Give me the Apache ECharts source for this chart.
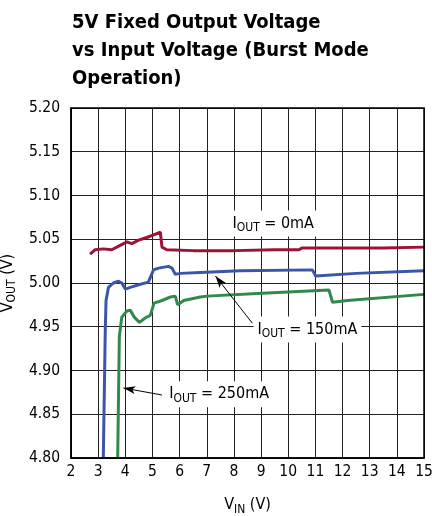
<!DOCTYPE html>
<html><head><meta charset="utf-8">
<script src="https://cdn.jsdelivr.net/npm/echarts@6/dist/echarts.min.js"></script>
<style>html,body{margin:0;padding:0;background:#fff}#c{width:432px;height:516px}</style>
</head><body><div id="c"></div>
<script>
const FONT = "'DejaVu Sans Condensed', 'Liberation Sans Narrow', Arial, sans-serif";
const TFONT = "'DejaVu Sans Condensed', Arial, sans-serif";
const xTicks = [2,3,4,5,6,7,8,9,10,11,12,13,14,15];
const yTicks = [4.80,4.85,4.90,4.95,5.00,5.05,5.10,5.15,5.20];

const vin0 = [2.70,2.89,3.19,3.50,3.81,4.06,4.24,4.49,4.79,5.04,5.29,5.32,5.35,5.53,6.5,8.0,9.5,10.4,10.5,12.0,13.5,15.0];
const vout0 = [5.033,5.038,5.039,5.038,5.043,5.047,5.045,5.049,5.052,5.055,5.058,5.058,5.041,5.038,5.037,5.037,5.038,5.038,5.040,5.040,5.040,5.041];

const vin150 = [3.19,3.26,3.29,3.38,3.56,3.75,3.87,4.00,4.18,4.49,4.85,5.04,5.22,5.59,5.72,5.84,6.03,6.76,8.24,10.89,11.01,12.5,15.0];
const vout150 = [4.80,4.942,4.980,4.995,5.000,5.002,5.000,4.993,4.995,4.998,5.001,5.015,5.017,5.019,5.017,5.010,5.011,5.012,5.014,5.015,5.008,5.011,5.014];

const vin250 = [3.72,3.78,3.87,4.06,4.18,4.33,4.52,4.73,4.92,5.06,5.35,5.66,5.84,5.93,6.15,6.76,7.01,8.86,11.50,11.63,12.18,15.0];
const vout250 = [4.80,4.939,4.961,4.968,4.969,4.961,4.955,4.960,4.963,4.977,4.980,4.984,4.985,4.975,4.980,4.984,4.985,4.988,4.992,4.978,4.980,4.987];

const seriesNames = ['0mA','150mA','250mA'];
const seriesColors = ['#9c1334','#3b56a9','#2f8a4c'];

const labels = [
  {t:'0mA', x:7.80, y:5.068},
  {t:'150mA', x:8.72, y:4.947, from:[8.68,4.954], to:[7.32,5.008]},
  {t:'250mA', x:5.47, y:4.873, from:[5.35,4.872], to:[3.93,4.880]}
];

function zip(a,b){return a.map((v,i)=>[v,b[i]]);}

const chart = echarts.init(document.getElementById('c'), null, {renderer:'canvas'});
const rich = {
  n:{fontSize:16, fontFamily:FONT, color:'#000', lineHeight:20},
  s:{fontSize:12, fontFamily:FONT, color:'#000', padding:[9,0,0,0], lineHeight:12}
};
const dataSets = [zip(vin0,vout0), zip(vin150,vout150), zip(vin250,vout250)];
const series = dataSets.map((d,i)=>({
  type:'line', name:seriesNames[i], data:d, showSymbol:false, symbol:'none',
  lineStyle:{color:seriesColors[i], width:3}, z:3, animation:false,
  markLine: labels[i].from ? {
    silent:true, animation:false, symbol:['none','arrow'], symbolSize:[6,12],
    lineStyle:{color:'#000', width:1, type:'solid'}, label:{show:false},
    data:[[{coord:labels[i].from},{coord:labels[i].to}]]
  } : undefined
}));

chart.setOption({
  animation:false,
  title:{text:'5V Fixed Output Voltage\nvs Input Voltage (Burst Mode\nOperation)', left:67, top:4,
    textStyle:{fontFamily:TFONT, fontSize:20, fontWeight:'bold', color:'#000', lineHeight:28}},
  grid:{left:71, right:8, top:108, bottom:58, containLabel:false, outerBoundsMode:'none'},
  xAxis:{type:'value', min:2, max:15, interval:1,
    name:'{n|V}{s|IN}{n| (V)}', nameLocation:'middle', nameGap:37,
    nameTextStyle:{rich:rich},
    axisLine:{show:true, lineStyle:{color:'#000', width:1.5}},
    axisTick:{show:false},
    axisLabel:{fontFamily:FONT, fontSize:15.5, color:'#000', margin:6, formatter:v=>String(v)},
    splitLine:{show:true, lineStyle:{color:'#222', width:1}}},
  yAxis:{type:'value', min:4.80, max:5.20, interval:0.05,
    name:'{n|V}{s|OUT}{n| (V)}', nameLocation:'middle', nameGap:46, nameRotate:90,
    nameTextStyle:{rich:rich},
    axisLine:{show:true, lineStyle:{color:'#000', width:1.5}},
    axisTick:{show:false},
    axisLabel:{fontFamily:FONT, fontSize:15.5, color:'#000', margin:11, formatter:v=>v.toFixed(2)},
    splitLine:{show:true, lineStyle:{color:'#222', width:1}}},
  series:series
});

const rect = chart.convertToPixel({gridIndex:0},[2,5.20]);
const rect2 = chart.convertToPixel({gridIndex:0},[15,4.80]);
const g = [{type:'rect', shape:{x:rect[0], y:rect[1], width:rect2[0]-rect[0], height:rect2[1]-rect[1]},
  style:{fill:'none', stroke:'#000', lineWidth:1.5}, z:10, silent:true}];
labels.forEach(l=>{
  const p = chart.convertToPixel({gridIndex:0},[l.x,l.y]);
  g.push({type:'text', x:p[0], y:p[1], z:20, silent:true,
    style:{text:'{n|I}{s|OUT}{n| = '+l.t+'}', rich:rich, backgroundColor:'#fff', padding:[3,4,3,4], verticalAlign:'middle', align:'left'}});
});
chart.setOption({graphic:g});
</script></body></html>
